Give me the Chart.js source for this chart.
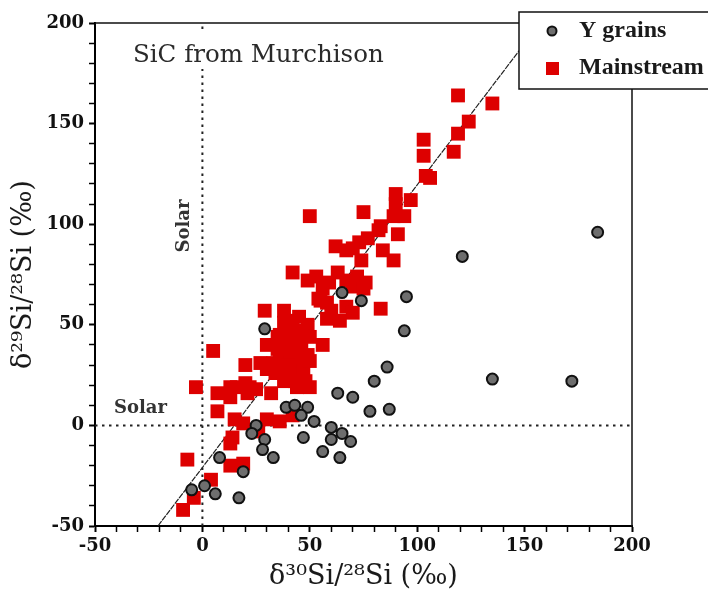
<!DOCTYPE html>
<html>
<head>
<meta charset="utf-8">
<script src="https://cdn.jsdelivr.net/npm/chart.js@4.4.1/dist/chart.umd.min.js"></script>
<style>
  html, body { margin: 0; padding: 0; background: #fff; }
  #wrap { width: 708px; height: 593px; position: relative; }
</style>
</head>
<body>
<div id="wrap"><canvas id="c" width="708" height="593"></canvas></div>
<script>
// ---- Data ----
const yGrainsX = [95, 94, 86, 80, 135, 172, 70, 78, 87, 69, 65, 64, 65, 74, 184, 121, 29, 63, 39, 43, 49, 46, 52, 47, 60, 60, 56, 25, 23, 29, 28, 33, 8, 19, -5, 1, 6, 17];
const yGrainsY = [64, 47, 29, 22, 23, 22, 14, 7, 8, -8, -4, -16, 66, 62, 96, 84, 48, 16, 9, 10, 9, 5, 2, -6, -1, -7, -13, 0, -4, -7, -12, -16, -16, -23, -32, -30, -34, -36];

const mainX = [119, 135, 124, 119, 117, 103, 103, 104, 106, 90, 97, 90, 89, 94, 75, 83, 82, 91, 77, 73, 62, 67, 70, 84, 74, 89, 50,
  42, 53, 49, 63, 59, 67, 72, 76, 70, 75, 56, 54, 58, 55, 60, 67, 70, 58, 64, 83,
  29, 38, 38, 45, 49, 39, 35, 30, 40, 46, 50, 56, 43, 36, 49, 20, 27, 30, 36, 44, 42, 34, 22, 16, 32, 44, 50,
  5, -3, 7, 13, 13, 20, 21, 25, 7, 15, 19, 26, 30, 36, 42, 14, 13, 13, 19, -7, 4, -4, -9,
  40, 42, 44, 46, 41, 38, 35, 45, 40, 47, 43, 38, 46, 33, 50, 48, 39, 42, 36, 44];
const mainY = [164, 160, 151, 145, 136, 142, 134, 124, 123, 115, 112, 110, 104, 104, 106, 99, 97, 95, 93, 91, 89, 87, 88, 87, 82, 82, 104,
  76, 74, 72, 76, 71, 72, 74, 71, 69, 68, 68, 63, 61, 62, 57, 59, 56, 53, 52, 58,
  57, 57, 51, 54, 50, 48, 44, 40, 39, 42, 44, 40, 34, 34, 35, 30, 31, 28, 28, 29, 25, 26, 19, 19, 16, 19, 19,
  37, 19, 16, 19, 14, 21, 16, 18, 7, 3, 1, -3, 3, 2, 5, -6, -9, -20, -19, -17, -27, -36, -42,
  45, 50, 47, 38, 36, 40, 38, 32, 30, 27, 22, 22, 45, 31, 32, 22, 52, 43, 45, 40];

// Mainstream correlation line end points
const fitX = [-20.7, 150];
const fitY = [-50, 189.8];

// Solar reference values
const solarX = 0;
const solarY = 0;

// Axis ranges / ticks
const axisMin = -50;
const axisMax = 200;
const minorStep = 10;
const majorStep = 50;

const toPts = (xs, ys) => xs.map((v, i) => ({ x: v, y: ys[i] }));

const decor = {
  id: 'decor',
  afterDraw(chart) {
    const { ctx, chartArea: a, scales: { x, y } } = chart;
    ctx.save();
    // top & right frame
    ctx.strokeStyle = '#111';
    ctx.lineWidth = 1.5;
    ctx.beginPath();
    ctx.moveTo(a.left, a.top);
    ctx.lineTo(a.right, a.top);
    ctx.lineTo(a.right, a.bottom);
    ctx.stroke();

    // "SiC from Murchison"
    ctx.font = '24.5px "DejaVu Serif"';
    const t = 'SiC from Murchison';
    const w = ctx.measureText(t).width;
    const tx = 133, ty = 62;
    ctx.fillStyle = '#fff';
    ctx.fillRect(tx - 4, 31, w + 8, 38);
    ctx.fillStyle = '#2a2a2a';
    ctx.textBaseline = 'alphabetic';
    ctx.textAlign = 'left';
    ctx.fillText(t, tx, ty);

    // Solar labels
    ctx.font = 'bold 18px "DejaVu Serif"';
    ctx.fillStyle = '#333';
    ctx.fillText('Solar', 114, y.getPixelForValue(solarY) - 12);
    ctx.save();
    ctx.translate(x.getPixelForValue(solarX) - 13, 226);
    ctx.rotate(-Math.PI / 2);
    ctx.textAlign = 'center';
    ctx.fillText('Solar', 0, 0);
    ctx.restore();

    // Legend box
    const lx = 519, ly = 12, lb = 89;
    ctx.fillStyle = '#fff';
    ctx.fillRect(lx, ly, 720 - lx, lb - ly);
    ctx.strokeStyle = '#111';
    ctx.lineWidth = 1.5;
    ctx.strokeRect(lx, ly, 720 - lx, lb - ly);
    const ds = chart.data.datasets;
    // circle
    ctx.beginPath();
    ctx.arc(552, 31, 4.5, 0, Math.PI * 2);
    ctx.fillStyle = ds[0].pointBackgroundColor;
    ctx.fill();
    ctx.lineWidth = 2;
    ctx.strokeStyle = ds[0].pointBorderColor;
    ctx.stroke();
    // square
    ctx.fillStyle = ds[1].pointBackgroundColor;
    ctx.fillRect(546, 62, 13, 13);
    ctx.fillStyle = '#1a1a1a';
    ctx.font = 'bold 24px "Liberation Serif"';
    ctx.textAlign = 'left';
    ctx.fillText(ds[0].label, 579, 37);
    ctx.fillText(ds[1].label, 579, 74);
    ctx.restore();
  }
};

const tickFont = { family: '"DejaVu Serif"', size: 18, weight: 'bold' };
const titleFont = { family: '"DejaVu Serif"', size: 27, weight: 'normal' };
const tickLabel = v => (v % majorStep === 0 ? String(v) : '');
const tickW = c => (c.tick && c.tick.value % majorStep === 0 ? 2 : 1.5);

new Chart(document.getElementById('c'), {
  type: 'scatter',
  data: {
    datasets: [
      {
        label: 'Y grains',
        data: toPts(yGrainsX, yGrainsY),
        pointStyle: 'circle',
        pointRadius: 5.5,
        pointBackgroundColor: '#6e6e6e',
        pointBorderColor: '#111',
        pointBorderWidth: 2,
        order: 0
      },
      {
        label: 'Mainstream',
        data: toPts(mainX, mainY),
        pointStyle: 'rect',
        pointRadius: 9.8,
        pointBackgroundColor: '#dd0000',
        pointBorderWidth: 0,
        pointBorderColor: '#dd0000',
        order: 1
      },
      {
        type: 'line',
        label: 'fit',
        data: toPts(fitX, fitY),
        borderColor: '#222',
        borderWidth: 1.2,
        borderDash: [6, 1],
        pointRadius: 0,
        order: 2
      },
      {
        type: 'line',
        label: 'solar x',
        data: [{ x: solarX, y: axisMin }, { x: solarX, y: axisMax }],
        borderColor: '#222',
        borderWidth: 2,
        borderDash: [2.5, 4.5],
        pointRadius: 0,
        order: 3
      },
      {
        type: 'line',
        label: 'solar y',
        data: [{ x: axisMin, y: solarY }, { x: axisMax, y: solarY }],
        borderColor: '#222',
        borderWidth: 2,
        borderDash: [2.5, 4.5],
        pointRadius: 0,
        order: 3
      }
    ]
  },
  options: {
    responsive: false,
    animation: false,
    events: [],
    layout: { padding: { top: 23, right: 76, left: 0, bottom: 0 } },
    plugins: { legend: { display: false }, tooltip: { enabled: false } },
    scales: {
      x: {
        type: 'linear',
        min: axisMin, max: axisMax,
        afterFit: s => { s.height = 67; },
        border: { display: true, color: '#000', width: 2 },
        grid: { display: true, drawOnChartArea: false, drawTicks: true, tickLength: 6, tickColor: '#000', tickWidth: tickW },
        ticks: { stepSize: minorStep, autoSkip: false, maxRotation: 0, padding: 4, color: '#111', font: tickFont, callback: tickLabel },
        title: { display: true, text: 'δ³⁰Si/²⁸Si (‰)', color: '#1a1a1a', font: titleFont, padding: { top: 0, bottom: 0 } }
      },
      y: {
        type: 'linear',
        min: axisMin, max: axisMax,
        afterFit: s => { s.width = 95; },
        border: { display: true, color: '#000', width: 2 },
        grid: { display: true, drawOnChartArea: false, drawTicks: true, tickLength: 6, tickColor: '#000', tickWidth: tickW },
        ticks: { stepSize: minorStep, autoSkip: false, padding: 5, color: '#111', font: tickFont, callback: tickLabel },
        title: { display: true, text: 'δ²⁹Si/²⁸Si (‰)', color: '#1a1a1a', font: titleFont, padding: { top: 8, bottom: 0 } }
      }
    }
  },
  plugins: [decor]
});
</script>
</body>
</html>
